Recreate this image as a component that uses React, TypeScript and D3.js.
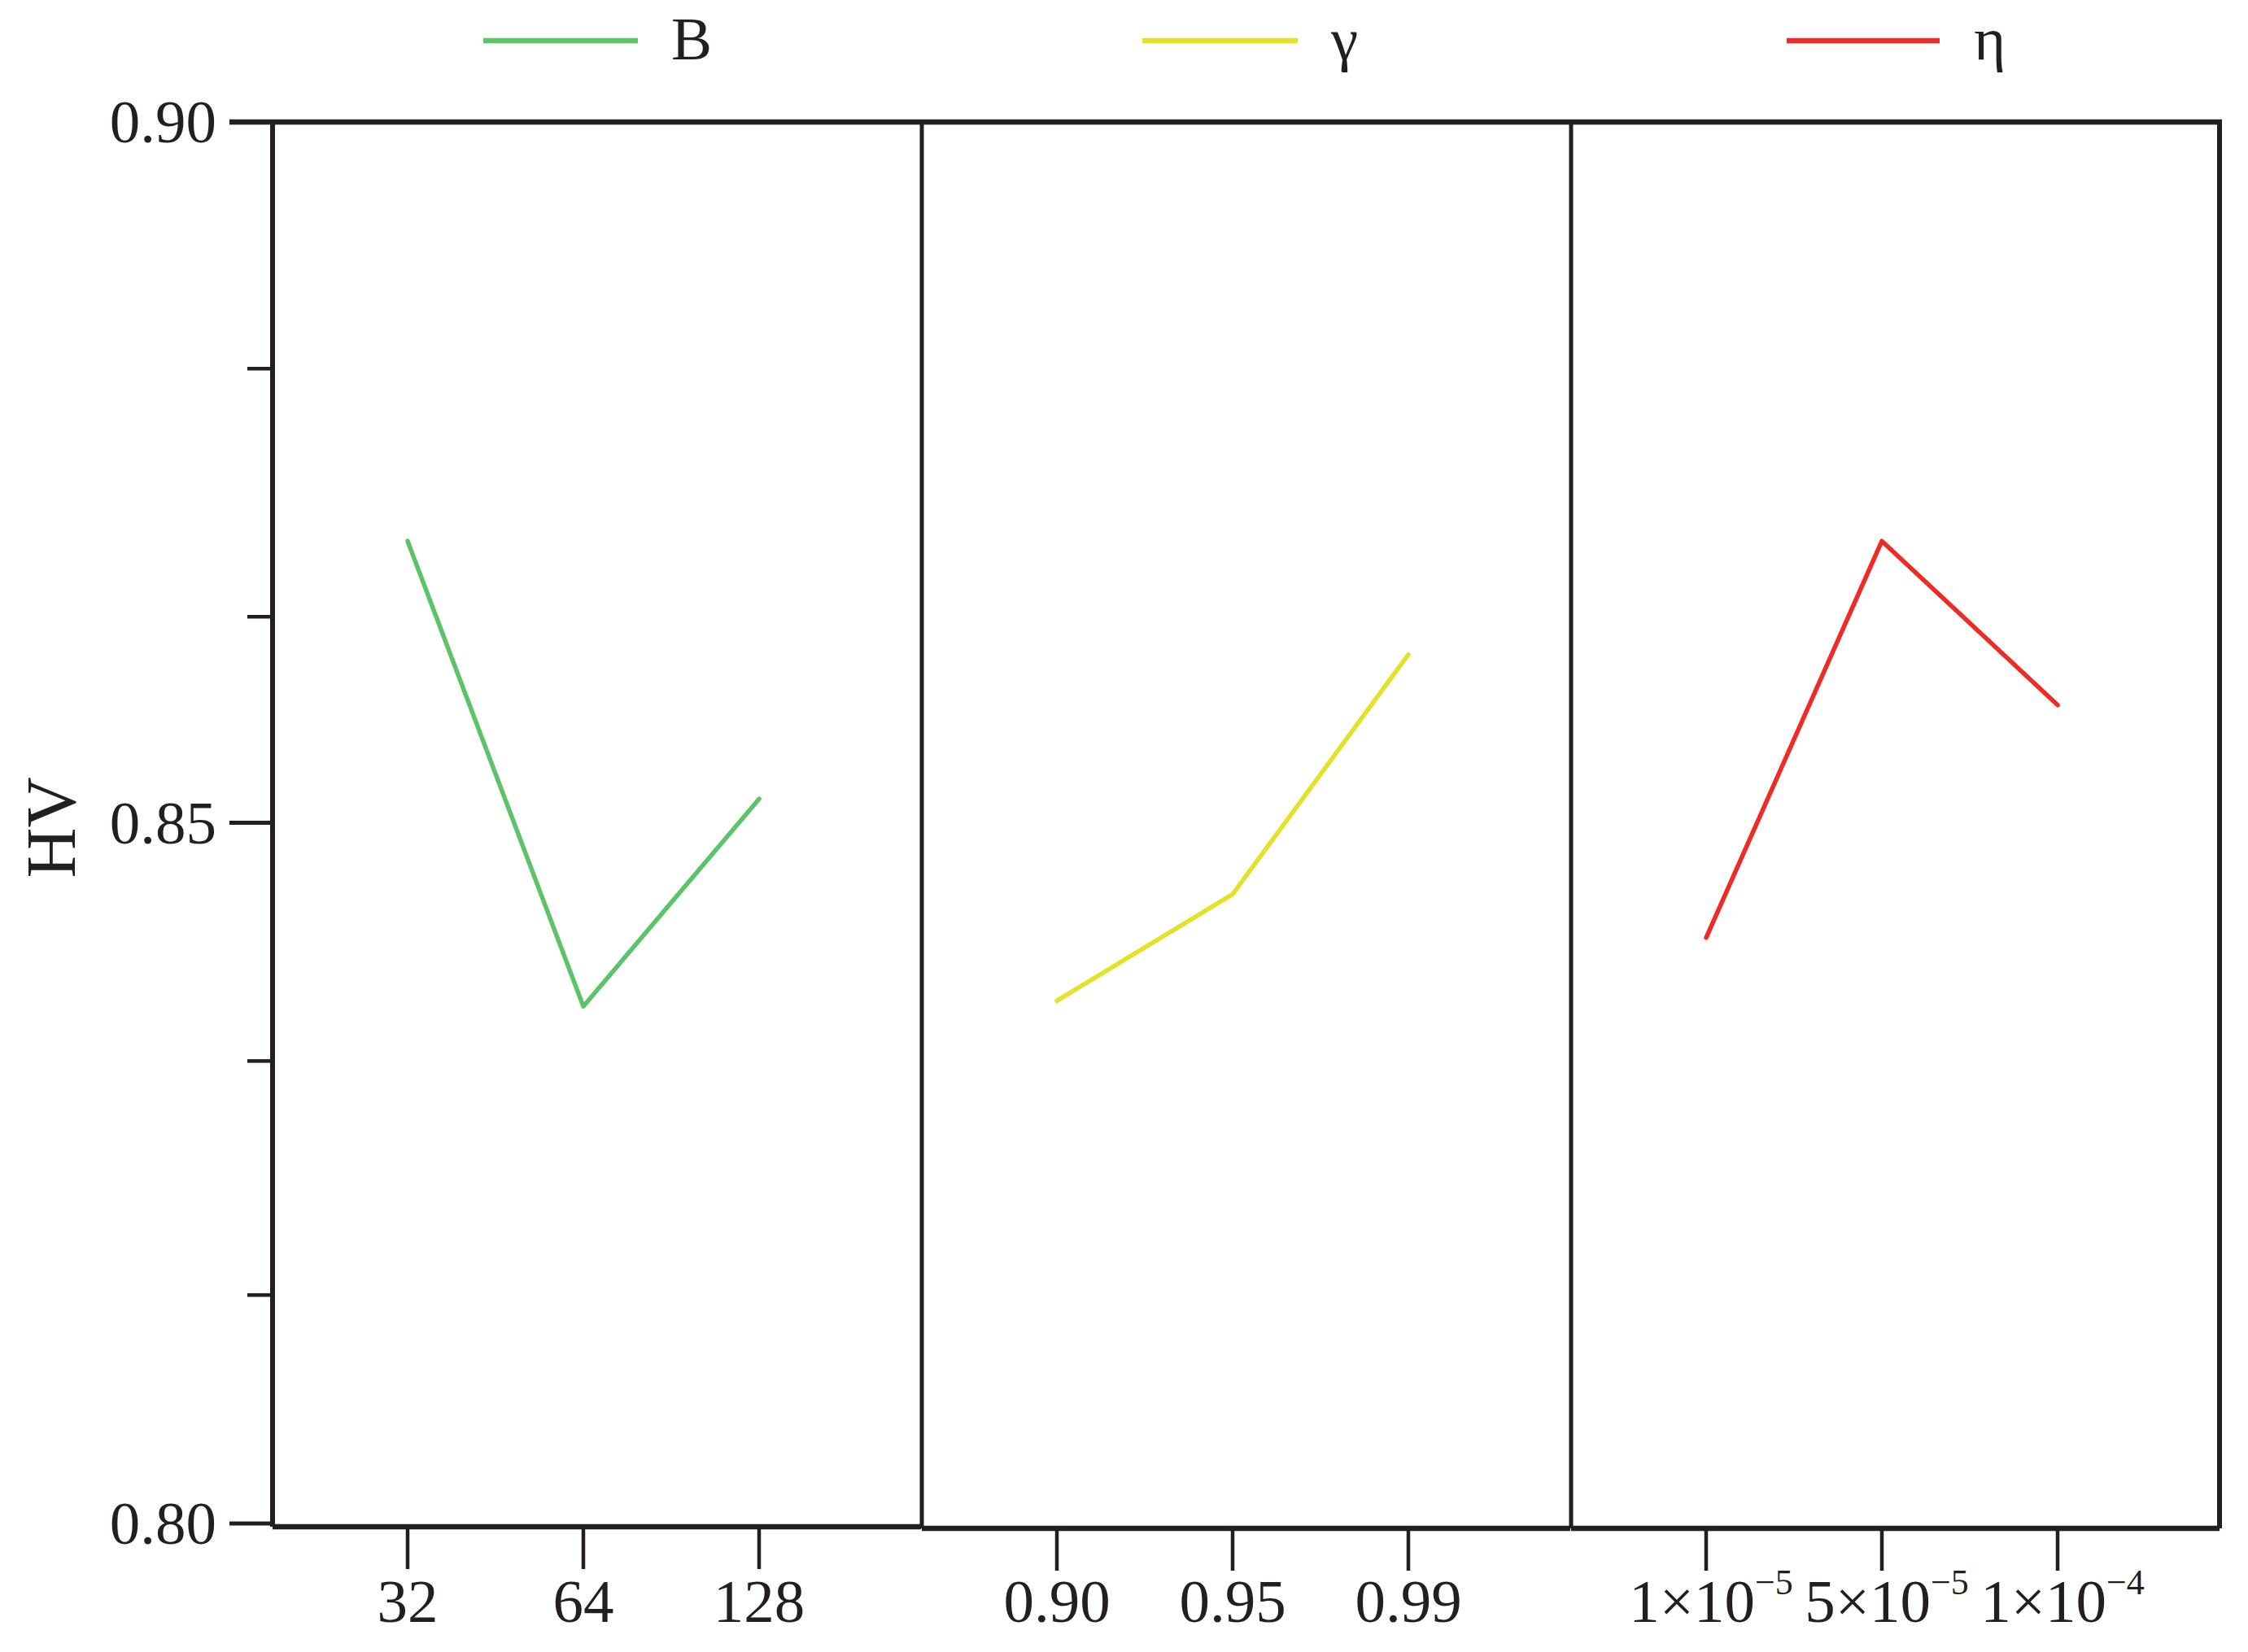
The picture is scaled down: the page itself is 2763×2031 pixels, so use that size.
import React from "react";
import * as d3 from "d3";

// ---- data ----
const B_LABELS = ["32", "64", "128"];
const B_VALUES = [0.8701, 0.8369, 0.8517];

const GAMMA_LABELS = ["0.90", "0.95", "0.99"];
const GAMMA_VALUES = [0.8373, 0.8449, 0.862];

const ETA_BASES = ["1×10", "5×10", "1×10"];
const ETA_EXPONENTS = ["−5", "−5", "−4"];
const ETA_VALUES = [0.8418, 0.8701, 0.8584];

const SERIES_NAMES = ["B", "γ", "η"];
const SERIES_COLORS = ["#5cc36b", "#e2e22a", "#ee2b24"];

const Y_MAJOR = [0.8, 0.85, 0.9];
const Y_MINOR = [0.8163, 0.833, 0.8647, 0.8824];
const Y_LABEL = "HV";

// ---- layout ----
const W = 2763;
const H = 2031;
const FONT = "'Liberation Serif', 'Times New Roman', serif";
const INK = "#231f20";
const PANEL_X0 = [335, 1133, 1931];
const PANEL_W = 797;
const FIRST_OFF = 166;
const STEP = 216;
const FS = 75;

export default function App() {
  const y = d3.scaleLinear().domain([0.8, 0.9]).range([1873, 150]);
  const bottom = y(0.8) + 4;

  const panels = [
    { labels: B_LABELS, values: B_VALUES },
    { labels: GAMMA_LABELS, values: GAMMA_VALUES },
    { labels: ETA_BASES.map((b, i) => b + ETA_EXPONENTS[i]), values: ETA_VALUES },
  ];

  const legendLines = [
    [594, 784, 825],
    [1404, 1595, 1636],
    [2196, 2384, 2426],
  ];

  return (
    <svg
      width={W}
      height={H}
      style={{ position: "absolute", left: 0, top: 0, display: "block", background: "#fff" }}
      fontFamily={FONT}
    >
      <rect x={0} y={0} width={W} height={H} fill="#fff" />

      {/* legend */}
      {SERIES_NAMES.map((name, i) => (
        <g key={name}>
          <line
            x1={legendLines[i][0]}
            x2={legendLines[i][1]}
            y1={50}
            y2={50}
            stroke={SERIES_COLORS[i]}
            strokeWidth={6.5}
          />
          <text x={legendLines[i][2]} y={73} fontSize={FS} fill={INK}>
            {name}
          </text>
        </g>
      ))}

      {/* y axis label */}
      <text
        transform={`translate(92, ${y(0.85) + 6}) rotate(-90)`}
        textAnchor="middle"
        fontSize={86}
        fill={INK}
      >
        {Y_LABEL}
      </text>

      {/* y axis ticks and labels */}
      {Y_MAJOR.map((v) => (
        <g key={"M" + v}>
          <line x1={282} x2={335} y1={y(v)} y2={y(v)} stroke={INK} strokeWidth={5} />
          <text x={266} y={y(v) + 25} textAnchor="end" fontSize={FS} fill={INK}>
            {d3.format(".2f")(v)}
          </text>
        </g>
      ))}
      {Y_MINOR.map((v) => (
        <line key={"m" + v} x1={304} x2={335} y1={y(v)} y2={y(v)} stroke={INK} strokeWidth={4.5} />
      ))}

      {/* panels */}
      {panels.map((p, pi) => {
        const x0 = PANEL_X0[pi];
        const x = d3
          .scalePoint<string>()
          .domain(p.labels)
          .range([x0 + FIRST_OFF, x0 + FIRST_OFF + STEP * (p.labels.length - 1)]);
        const pts = p.labels.map((l, i) => [x(l) as number, y(p.values[i])] as [number, number]);
        const line = d3.line();
        const b = bottom + (pi === 0 ? 0 : 2);
        return (
          <g key={pi}>
            {/* frame */}
            <line x1={x0} x2={x0} y1={148} y2={b} stroke={INK} strokeWidth={pi === 0 ? 6 : 5} />
            <line x1={x0} x2={x0 + PANEL_W} y1={b} y2={b} stroke={INK} strokeWidth={6.5} />
            {pi === 2 && (
              <line x1={x0 + PANEL_W} x2={x0 + PANEL_W} y1={148} y2={b} stroke={INK} strokeWidth={6} />
            )}
            {/* x ticks */}
            {p.labels.map((l, i) => (
              <g key={l + i}>
                <line x1={x(l)} x2={x(l)} y1={b} y2={b + 52} stroke={INK} strokeWidth={4.5} />
                {pi === 2 ? (
                  <text x={(x(l) as number) + 6} y={1994} textAnchor="middle" fontSize={FS} fill={INK}>
                    {ETA_BASES[i]}
                    <tspan fontSize={44} dy={-34}>
                      {ETA_EXPONENTS[i]}
                    </tspan>
                  </text>
                ) : (
                  <text x={x(l)} y={1994} textAnchor="middle" fontSize={FS} fill={INK}>
                    {l}
                  </text>
                )}
              </g>
            ))}
            {/* data line */}
            <path
              d={line(pts) || ""}
              fill="none"
              stroke={SERIES_COLORS[pi]}
              strokeWidth={5.5}
              strokeLinejoin="round"
              strokeLinecap="round"
            />
          </g>
        );
      })}

      {/* top frame line */}
      <line x1={282} x2={PANEL_X0[2] + PANEL_W + 3} y1={y(0.9)} y2={y(0.9)} stroke={INK} strokeWidth={6.5} />
    </svg>
  );
}
